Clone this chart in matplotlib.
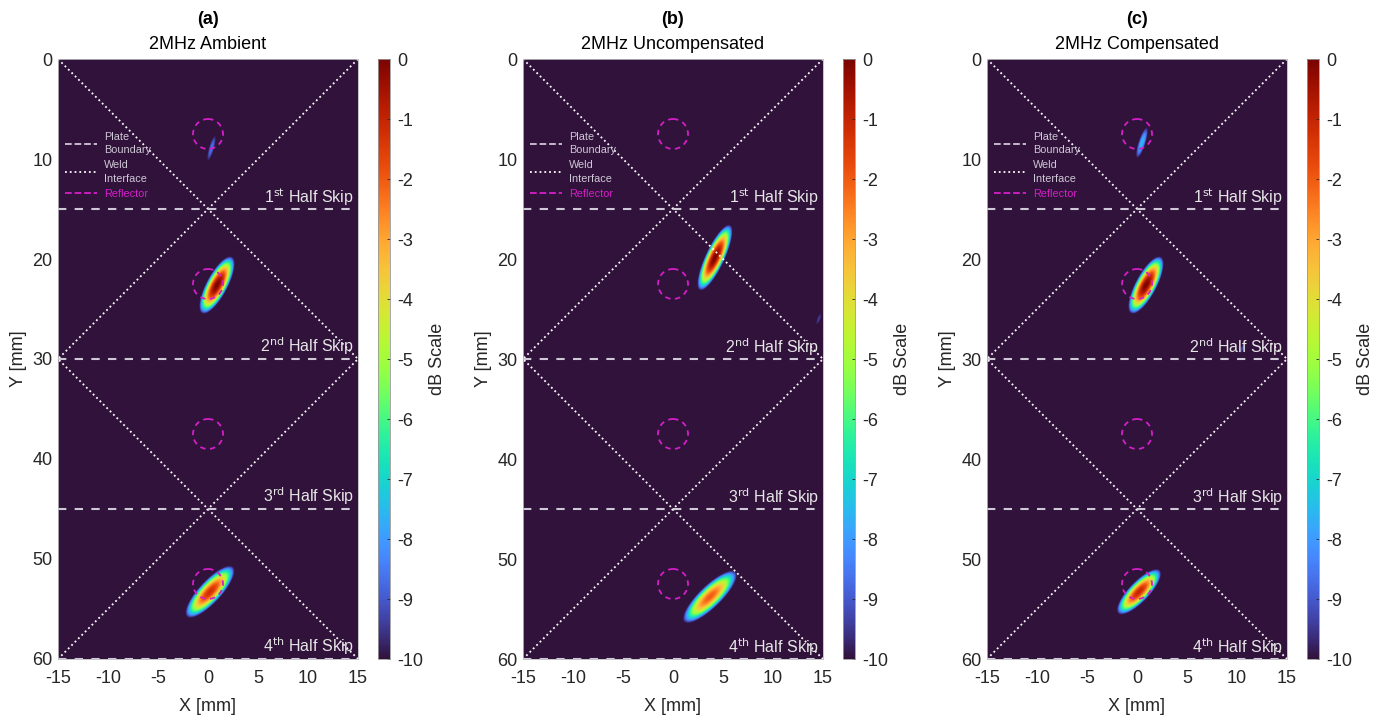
import numpy as np
import matplotlib
matplotlib.use("Agg")
from matplotlib import pyplot as plt
from matplotlib.patches import Circle
from matplotlib.lines import Line2D

plt.rcParams['font.family'] = ['Liberation Sans', 'DejaVu Sans']
plt.rcParams['axes.unicode_minus'] = False

tags = ["(a)", "(b)", "(c)"]
titles = ["2MHz Ambient", "2MHz Uncompensated", "2MHz Compensated"]

# TFM blobs per panel: centre x, centre y [mm], peak [dB], half length, half width [mm], tilt [deg]
blob_x = [[0.35, 0.9, 0.2], [4.2, 3.7, 14.6], [0.5, 0.9, 0.2, 10.5]]
blob_y = [[8.9, 22.6, 53.3], [19.85, 53.8, 26.0], [8.35, 22.6, 53.3, 29.0]]
blob_peak = [[-8.6, 0.0, -1.2], [0.0, -2.0, -9.3], [-7.5, 0.0, -1.0, -9.3]]
blob_len = [[1.3, 3.2, 3.4], [3.6, 3.6, 0.6], [1.6, 3.2, 3.0, 0.5]]
blob_wid = [[0.25, 1.05, 1.1], [0.95, 1.1, 0.15], [0.35, 1.05, 1.0, 0.2]]
blob_tilt = [[-74, -62, -47], [-65, -44, -70], [-72, -62, -46, -60]]

reflector_y = [7.5, 22.5, 37.5, 52.5]
reflector_r = 1.5
skip_y = [15, 30, 45, 60]
skip_names = ["1$^{\\rm st}$ Half Skip", "2$^{\\rm nd}$ Half Skip",
              "3$^{\\rm rd}$ Half Skip", "4$^{\\rm th}$ Half Skip"]
weld_x = [-15, 15, -15]
weld_y = [0, 30, 60]

xs = np.linspace(-15, 15, 601)
ys = np.linspace(0, 60, 1201)
X, Y = np.meshgrid(xs, ys)


def tfm_image(k):
    img = np.full(X.shape, -10.0)
    for x0, y0, p, a, b, t in zip(blob_x[k], blob_y[k], blob_peak[k],
                                   blob_len[k], blob_wid[k], blob_tilt[k]):
        th = np.deg2rad(t)
        u = (X - x0) * np.cos(th) + (Y - y0) * np.sin(th)
        v = -(X - x0) * np.sin(th) + (Y - y0) * np.cos(th)
        db = p - (10 + p) * ((u / a) ** 2 + (v / b) ** 2)
        img = np.maximum(img, db)
    return np.clip(img, -10, 0)


fig = plt.figure(figsize=(13.88, 7.16), dpi=100)
W, H = 1388.0, 716.0
lefts = [58, 523, 987]
txt = '#262626'
mag = '#d41fc8'
grey = '#cfc8d6'

for k in range(3):
    ax = fig.add_axes([lefts[k] / W, 1 - 659 / H, 300 / W, 600 / H])
    cax = fig.add_axes([(lefts[k] + 320) / W, 1 - 659 / H, 12 / W, 600 / H])

    im = ax.imshow(tfm_image(k), extent=[-15, 15, 60, 0], cmap='turbo',
                   vmin=-10, vmax=0, interpolation='bilinear', aspect='equal')

    # weld interfaces: zig-zag between the plate edges
    ax.plot(weld_x, weld_y, ':', color='white', lw=1.3)
    ax.plot([-x for x in weld_x], weld_y, ':', color='white', lw=1.3)
    for yy, name in zip(skip_y, skip_names):
        ax.plot([-15, 15], [yy, yy], '--', color=grey, lw=1.5, dashes=(4, 4))
        ax.text(14.6, yy - 0.15, name, color='#e6e6e6', fontsize=11.5,
                ha='right', va='bottom')
    for ry in reflector_y:
        ax.add_patch(Circle((0, ry), reflector_r, fill=False, ec=mag,
                            lw=1.3, ls=(0, (3, 2.5))))

    handles = [Line2D([], [], ls='--', color=grey, lw=1.3),
               Line2D([], [], ls=':', color='white', lw=1.3),
               Line2D([], [], ls='--', color=mag, lw=1.3)]
    leg = ax.legend(handles, ["Plate\nBoundary", "Weld\nInterface", "Reflector"],
                    loc='upper left', bbox_to_anchor=(-0.01, 0.895), frameon=False,
                    fontsize=7.8, handlelength=3.0, labelspacing=0.45,
                    labelcolor=[grey, grey, mag], handletextpad=0.6)
    for t in leg.get_texts():
        t.set_multialignment('left')
        t.set_linespacing(1.45)

    ax.set_xlim(-15, 15)
    ax.set_ylim(60, 0)
    ax.set_xticks(np.arange(-15, 16, 5))
    ax.set_yticks(np.arange(0, 61, 10))
    ax.tick_params(length=0, labelsize=13, colors=txt, pad=4)
    ax.tick_params(axis='x', pad=8)
    for s in ax.spines.values():
        s.set_color('#bbbbbb')
        s.set_linewidth(0.6)
    ax.set_xlabel("X [mm]", fontsize=13, color=txt, labelpad=8)
    ax.set_ylabel("Y [mm]", fontsize=13, color=txt, labelpad=4)
    ax.text(0.5, 1.052, tags[k], transform=ax.transAxes, ha='center',
            va='bottom', fontsize=13, fontweight='bold', color='black')
    ax.text(0.5, 1.01, titles[k], transform=ax.transAxes, ha='center',
            va='bottom', fontsize=13, color='black')

    cb = fig.colorbar(im, cax=cax, ticks=np.arange(-10, 1, 1))
    cb.outline.set_edgecolor('#999999')
    cb.outline.set_linewidth(0.6)
    cax.tick_params(labelsize=13, colors=txt, length=2, direction='in',
                    width=0.6, pad=5)
    cb.set_label("dB Scale", fontsize=13, color=txt, labelpad=4)

fig.savefig("out.png", dpi=100)
